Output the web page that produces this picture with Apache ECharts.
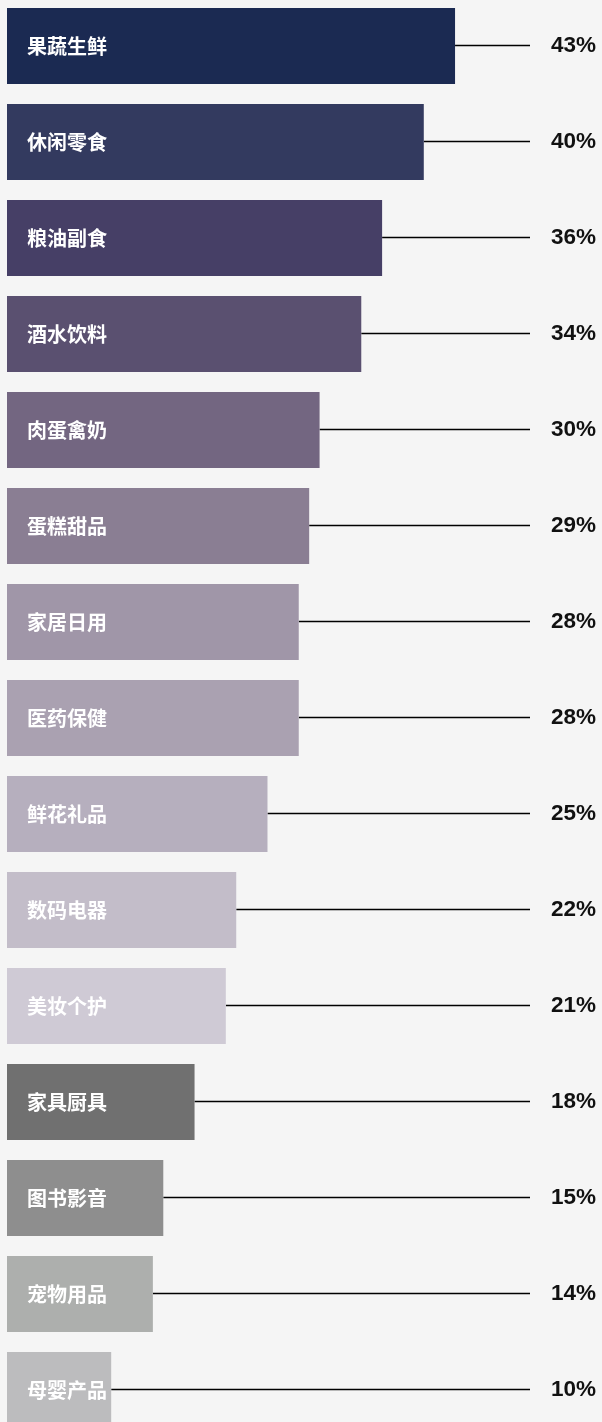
<!DOCTYPE html>
<html>
<head>
    <meta charset="utf-8">
    <title>ECharts</title>
    <script src="https://cdn.jsdelivr.net/npm/echarts@6/dist/echarts.min.js"></script>
    <style>
        html, body { margin: 0; padding: 0; background: #f5f5f5; overflow: hidden; }
    </style>
</head>
<body>
    <!-- chart is a bit taller than the window, last bar gets cut at the bottom -->
    <div id="main" style="width:602px;height:1440px;position:absolute;left:0;top:-2px;"></div>
    <script type="text/javascript">
// categories, top to bottom
var categories = ['果蔬生鲜', '休闲零食', '粮油副食', '酒水饮料', '肉蛋禽奶', '蛋糕甜品', '家居日用',
    '医药保健', '鲜花礼品', '数码电器', '美妆个护', '家具厨具', '图书影音', '宠物用品', '母婴产品'];
// share in %
var shares = [43, 40, 36, 34, 30, 29, 28, 28, 25, 22, 21, 18, 15, 14, 10];
var barColors = ['#1b2a52', '#333a5f', '#463f66', '#5a5070', '#736681', '#8a7e93', '#a096a8',
    '#aaa1b1', '#b6afbe', '#c3bdc9', '#cfcad5', '#707070', '#8e8e8e', '#adafad', '#bcbcbe'];

var myChart = echarts.init(document.getElementById('main'));

var option = {
    backgroundColor: '#f5f5f5',
    animation: false,
    grid: { left: 7, top: 0, width: 583.5, bottom: 0 },
    xAxis: { type: 'value', min: 0, max: 56, show: false },
    yAxis: {
        type: 'category', data: categories, inverse: true, show: false
    },
    series: [{
        type: 'bar',
        barWidth: 76,
        data: shares.map(function (v, i) {
            return { value: v, itemStyle: { color: barColors[i] } };
        }),
        label: {
            show: true,
            position: 'insideLeft',
            distance: 20,
            formatter: '{b}',
            color: '#fff',
            fontSize: 20,
            fontWeight: 'bold',
            fontFamily: 'Noto Sans CJK SC'
        },
        z: 3
    }, {
        // leader line + value at right
        type: 'custom',
        data: shares.map(function (v, i) { return [v, i]; }),
        encode: { x: 0, y: 1 },
        renderItem: function (params, api) {
            var p = api.coord([api.value(0), api.value(1)]);
            return {
                type: 'group',
                children: [{
                    type: 'line',
                    shape: { x1: p[0], y1: p[1] - 0.5, x2: 530, y2: p[1] - 0.5 },
                    style: { stroke: '#000', lineWidth: 1.5 }
                }, {
                    type: 'text',
                    style: {
                        x: 551, y: p[1],
                        text: api.value(0) + '%',
                        fill: '#111',
                        font: 'bold 22.5px "Liberation Sans", Arial, sans-serif',
                        textVerticalAlign: 'middle',
                        textAlign: 'left'
                    }
                }]
            };
        },
        z: 2
    }]
};

myChart.setOption(option);
    </script>
</body>
</html>
